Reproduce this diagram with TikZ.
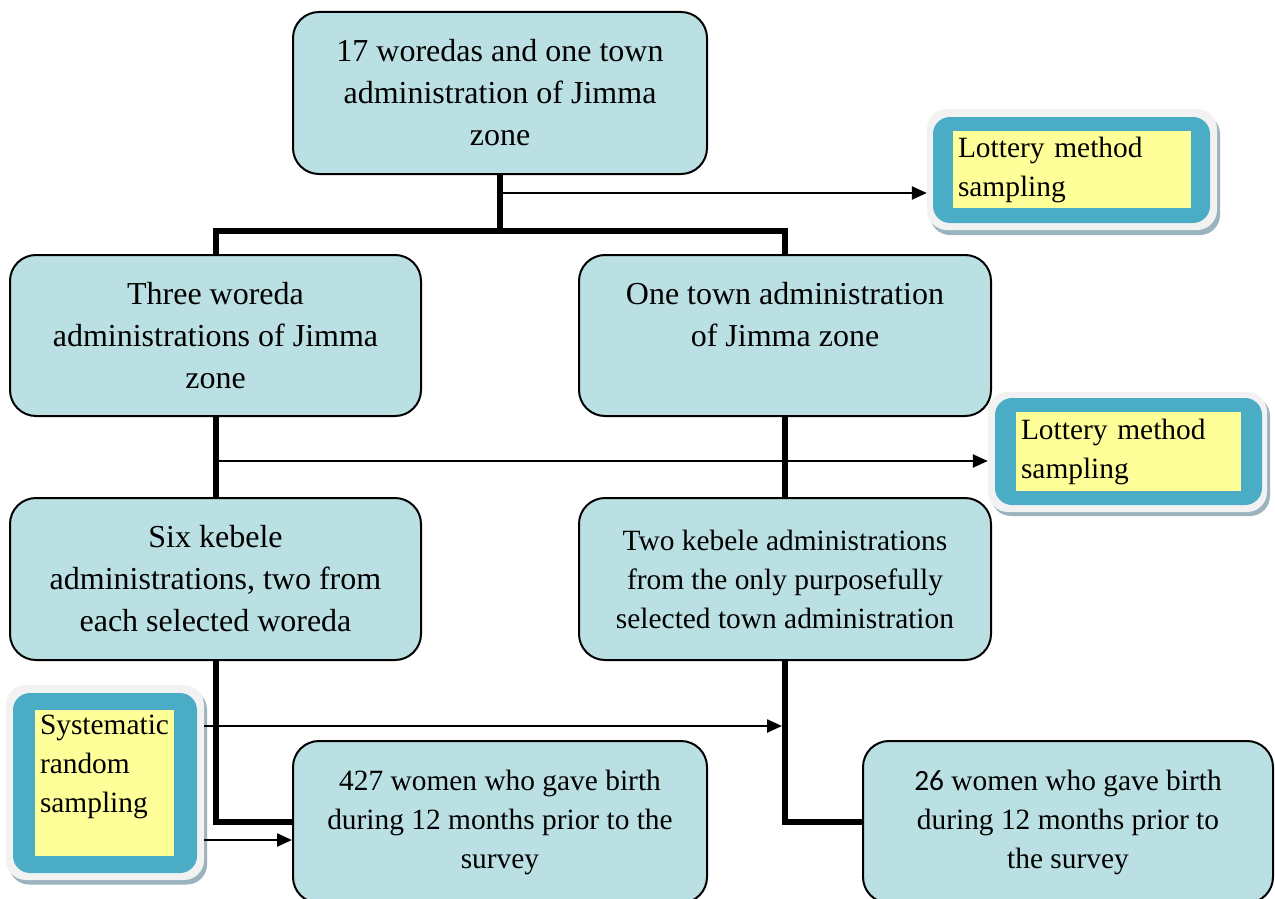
\documentclass[tikz,border=0pt]{standalone}
\usepackage{fontspec}
\setmainfont{Liberation Serif}
\newfontfamily\numfont{Carlito}
\usetikzlibrary{arrows.meta}
\definecolor{boxfill}{HTML}{BBE0E3}
\definecolor{tealbd}{HTML}{4BACC6}
\definecolor{yel}{HTML}{FFFF99}
\definecolor{gry}{HTML}{F2F2F2}
\definecolor{shd}{HTML}{9AB3BC}
\begin{document}
\begin{tikzpicture}[x=1pt,y=-1pt,
  mainbox/.style={draw=black, line width=2pt, fill=boxfill, rounded corners=26pt,
    align=center, inner sep=0pt, font=\fontsize{32}{42}\selectfont},
  smallfont/.style={font=\fontsize{29.4}{39}\selectfont},
  grybox/.style={fill=gry, rounded corners=20pt, inner sep=0pt},
  shadowbox/.style={fill=shd, rounded corners=20pt, inner sep=0pt},
  tealbox/.style={fill=tealbd, rounded corners=17pt, inner sep=0pt},
  yelbox/.style={fill=yel, inner xsep=5pt, inner ysep=0pt, align=left, font=\fontsize{29.4}{39}\selectfont},
  thickln/.style={line width=6pt, line join=miter},
  thinarrow/.style={line width=2.4pt, -{Triangle[length=15pt,width=13pt]}}]
\useasboundingbox (0,0) rectangle (1275,899);
\clip (0,0) rectangle (1275,899);
\fill[white] (0,0) rectangle (1275,899);

% side boxes
\node[shadowbox, minimum width=290pt, minimum height=121pt] (lot1s) at (1075,174.5) {};
\node[grybox, minimum width=290pt, minimum height=121pt] (lot1) at (1072,169.5) {};
\node[tealbox, minimum width=277pt, minimum height=106pt] (lot1t) at (1071.5,170) {};
\node[yelbox, minimum width=238pt, minimum height=77pt, text width=228pt] (lot1y) at (1072,169.5) {Lottery method\\sampling};

\node[shadowbox, minimum width=279pt, minimum height=120pt] (lot2s) at (1130.5,456) {};
\node[grybox, minimum width=279pt, minimum height=120pt] (lot2) at (1127.5,452) {};
\node[tealbox, minimum width=267pt, minimum height=107pt] (lot2t) at (1128.5,451.5) {};
\node[yelbox, minimum width=225pt, minimum height=79pt, text width=215pt] (lot2y) at (1128.5,451.5) {Lottery method\\sampling};

\node[shadowbox, minimum width=198pt, minimum height=195pt] (syss) at (108,787) {};
\node[grybox, minimum width=198pt, minimum height=195pt] (sys) at (105,782.5) {};
\node[tealbox, minimum width=184pt, minimum height=180pt] (syst) at (105,783) {};
\node[yelbox, minimum width=137pt, minimum height=146pt, text width=129pt] (sysy) at (104.5,783) {Systematic\\random\\sampling\\\mbox{}};

% main boxes
\node[mainbox, minimum width=414pt, minimum height=162pt] (top) at (500,93)
  {17 woredas and one town\\administration of Jimma\\zone};
\node[mainbox, minimum width=411pt, minimum height=161pt] (woreda) at (215.5,335.5)
  {Three woreda\\administrations of Jimma\\zone};
\node[mainbox, minimum width=412pt, minimum height=161pt] (town) at (785,335.5)
  {One town administration\\of Jimma zone\\\mbox{}};
\node[mainbox, minimum width=411pt, minimum height=162pt] (six) at (215.5,579)
  {Six kebele\\administrations, two from\\each selected woreda};
\node[mainbox, smallfont, minimum width=412pt, minimum height=162pt] (two) at (785,579)
  {Two kebele administrations\\from the only purposefully\\selected town administration};
\node[mainbox, smallfont, minimum width=414pt, minimum height=162pt] (w427) at (500,822)
  {427 women who gave birth\\during 12 months prior to the\\survey};
\node[mainbox, smallfont, minimum width=410pt, minimum height=162pt] (w26) at (1068,822)
  {{\numfont 26} women who gave birth\\during 12 months prior to\\the survey};

% connectors
\draw[thickln] (top.south) -- (top.south |- 0,231);
\draw[thickln] (woreda.north) -- (woreda.north |- 0,231) -- (town.north |- 0,231) -- (town.north);
\draw[thinarrow] (top.south |- 0,193) -- (lot1.west |- 0,193);
\draw[thickln] (woreda.south) -- (six.north);
\draw[thinarrow] (woreda.south |- 0,461) -- (lot2.west |- 0,461);
\draw[thickln] (town.south) -- (two.north);
\draw[thickln] (six.south) |- (w427.west);
\draw[thickln] (two.south) |- (w26.west);
\draw[thinarrow, shorten >=3pt] (sys.east |- 0,726) -- (two.south |- 0,726);
\draw[thinarrow] (sys.east |- 0,840) -- (w427.west |- 0,840);

% redraw box borders over connector ends
\end{tikzpicture}
\end{document}
